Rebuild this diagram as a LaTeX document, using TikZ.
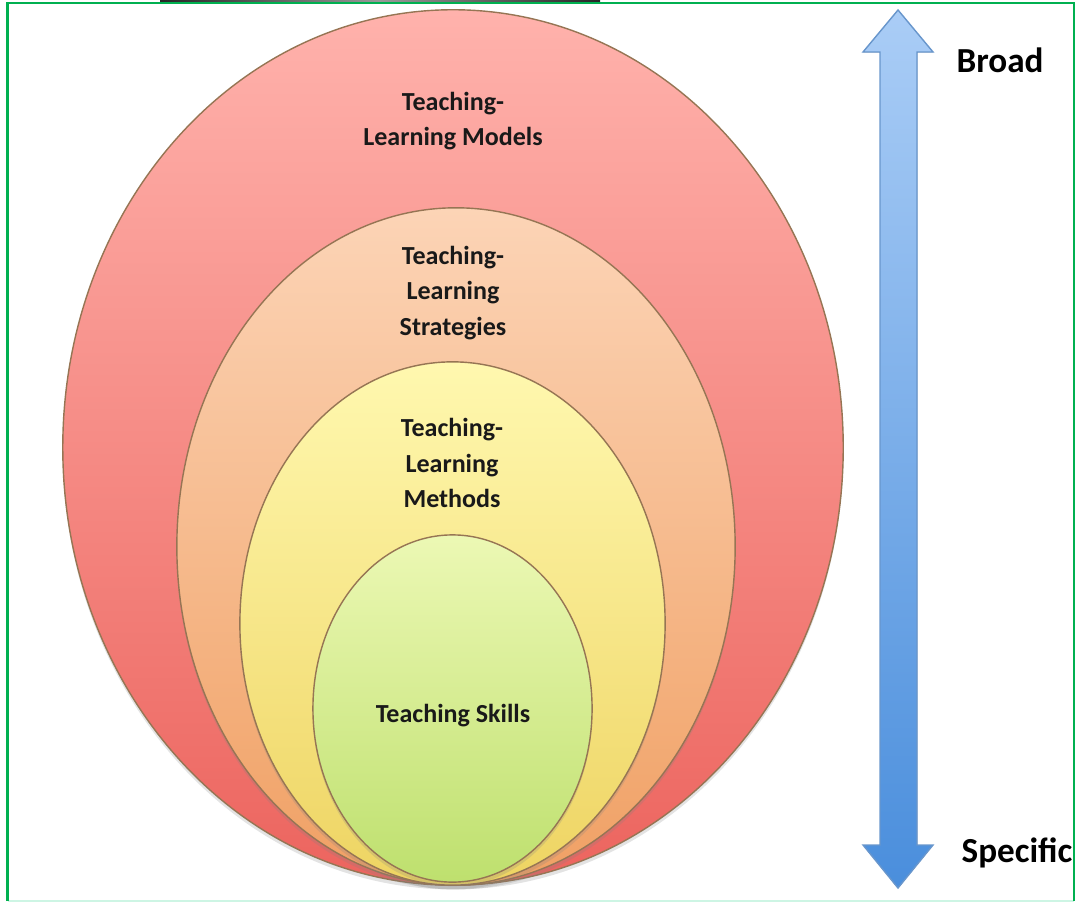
\documentclass[tikz,border=0pt]{standalone}
\usepackage{fontspec}
\setmainfont{Carlito}
\usetikzlibrary{shapes.geometric,shadows}

\definecolor{framegreen}{RGB}{0,176,80}
\definecolor{framemint}{RGB}{205,245,228}
\definecolor{redtop}{RGB}{255,178,172}
\definecolor{redbot}{RGB}{236,100,94}
\definecolor{orangetop}{RGB}{252,212,182}
\definecolor{orangebot}{RGB}{240,160,100}
\definecolor{yellowtop}{RGB}{255,248,175}
\definecolor{yellowbot}{RGB}{238,212,98}
\definecolor{greentop}{RGB}{236,248,180}
\definecolor{greenbot}{RGB}{190,224,110}
\definecolor{arrowtop}{RGB}{170,205,246}
\definecolor{arrowbot}{RGB}{74,142,220}

\tikzset{
  ring/.style={ellipse,inner sep=0pt,draw=black!35!brown!80,line width=0.4pt,
    drop shadow={opacity=0.22,shadow xshift=0pt,shadow yshift=-1.2pt}},
  ringlabel/.style={align=center,text=black!90,inner sep=0pt,
    font=\bfseries\fontsize{7.4}{10}\selectfont},
  sidelabel/.style={text=black,inner sep=0pt,
    font=\bfseries\fontsize{10}{12}\selectfont}
}

\begin{document}
\begin{tikzpicture}[x=0.01cm,y=-0.01cm]

  \useasboundingbox (0,0) rectangle (1076,903);

  % frame
  \shade[left color=black!85,right color=black!85,middle color=black!40]
    (160,0) rectangle (600,2.5);
  \draw[framemint,line width=0.6pt] (7.5,901) -- (1074,901);
  \draw[framegreen,line width=0.6pt] (7.5,901) -- (7.5,3) -- (1074,3) -- (1074,901);

  % nested rings
  \node[ring,top color=redtop,bottom color=redbot,
        minimum width=7.80cm,minimum height=8.75cm] (models) at (453,447.5) {};
  \node[ring,top color=orangetop,bottom color=orangebot,
        minimum width=5.58cm,minimum height=6.77cm] (strategies) at (456,546.5) {};
  \node[ring,top color=yellowtop,bottom color=yellowbot,
        minimum width=4.25cm,minimum height=5.23cm] (methods) at (452.5,623.5) {};
  \node[ring,top color=greentop,bottom color=greenbot,
        minimum width=2.79cm,minimum height=3.47cm] (skills) at (452.5,708.5) {};

  \begin{scope}[every node/.style={ringlabel}]
    \node (lmodels)     at (453,121) {Teaching-\\Learning Models};
    \node (lstrategies) at (453,293) {Teaching-\\Learning\\Strategies};
    \node (lmethods)    at (452,463) {Teaching-\\Learning\\Methods};
    \node (lskills)     at (453,716) {Teaching Skills};
  \end{scope}

  % scale arrow
  \fill[top color=arrowtop,bottom color=arrowbot,draw=arrowbot!80!black!60!arrowtop,line width=0.4pt]
    (898,10) -- (933,52) -- (917,52) -- (917,845) -- (933,845) -- (898,888)
    -- (863,845) -- (880,845) -- (880,52) -- (863,52) -- cycle;

  \begin{scope}[every node/.style={sidelabel}]
    \node (broad)    at (1000,60)  {Broad};
    \node (specific) at (1017,853) {Specific};
  \end{scope}

\end{tikzpicture}
\end{document}
